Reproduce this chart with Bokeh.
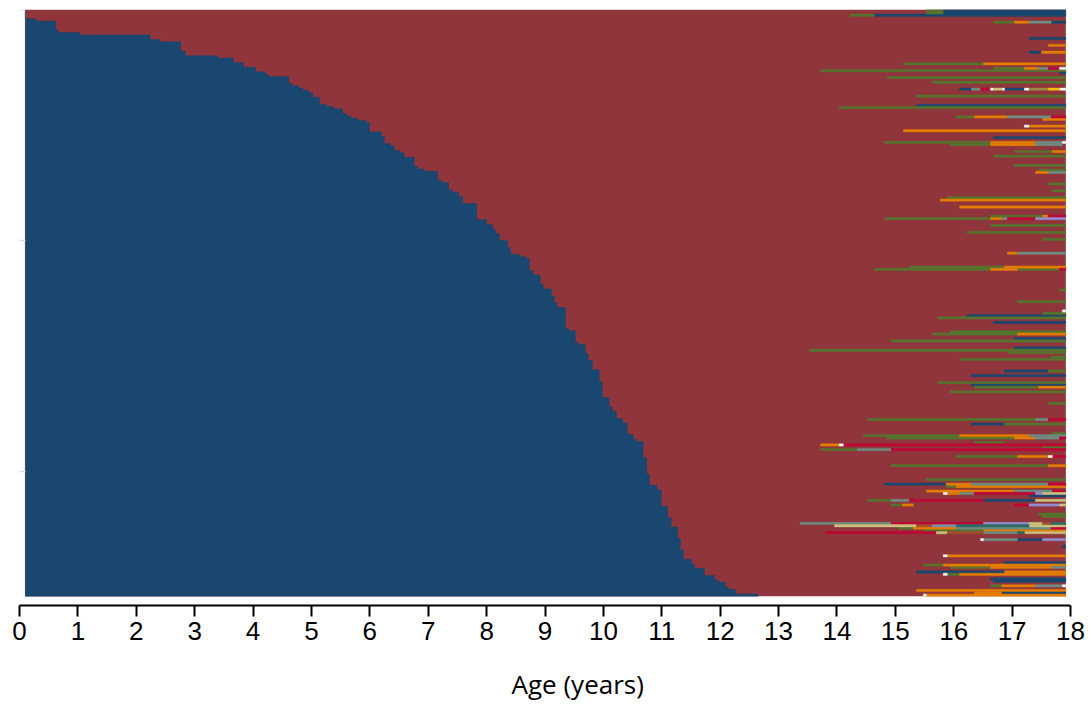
from bokeh.plotting import figure
from bokeh.models import Range1d, FixedTicker, ColumnDataSource
from bokeh.core.properties import value
from bokeh.embed import file_html
from bokeh.resources import INLINE

# ---------------- data ----------------
N_ROWS = 254          # number of sequences (rows, counted from the top)
SEQ_START = 0.10      # first observed age (years)
SEQ_END = 17.92       # last observed age (years)

# rows grouped by the age at which state 1 (navy) ends; each group starts at row index below
group_first_row = [0, 4, 5, 9, 10, 11, 13, 14, 18, 20, 21, 23, 25, 27, 28, 29, 32, 33, 34, 35,
                   36, 38, 41, 42, 43, 45, 46, 47, 48, 49, 53, 55, 58, 59, 61, 62, 64, 68, 69, 70,
                   74, 75, 78, 79, 81, 84, 91, 93, 95, 97, 100, 103, 106, 107, 108, 113, 115, 119, 121, 124,
                   127, 129, 138, 139, 144, 145, 149, 152, 156, 161, 168, 172, 174, 177, 179, 184, 186, 187, 194, 201,
                   206, 208, 215, 220, 224, 229, 234, 238, 240, 242, 245, 247, 248, 250, 251, 253]
blue_end_age = [0.10, 0.27, 0.62, 0.67, 1.04, 2.24, 2.41, 2.76, 2.84, 3.39, 3.66, 3.84, 4.04, 4.21, 4.26, 4.61, 4.67, 4.78, 4.85, 4.95,
                5.02, 5.14, 5.26, 5.38, 5.53, 5.60, 5.67, 5.79, 5.94, 5.99, 6.20, 6.25, 6.35, 6.42, 6.52, 6.59, 6.76, 6.82, 6.93, 7.16,
                7.24, 7.35, 7.41, 7.52, 7.59, 7.83, 8.00, 8.10, 8.15, 8.22, 8.36, 8.41, 8.56, 8.68, 8.73, 8.80, 8.92, 8.97, 9.11, 9.16,
                9.21, 9.35, 9.40, 9.52, 9.57, 9.69, 9.74, 9.81, 9.93, 9.98, 10.10, 10.15, 10.22, 10.33, 10.41, 10.51, 10.57, 10.68, 10.74, 10.79,
                10.92, 10.99, 11.10, 11.16, 11.27, 11.32, 11.37, 11.51, 11.56, 11.73, 11.90, 11.97, 12.09, 12.14, 12.26, 12.65]

# later episodes (row, start age, end age) for each further state
ep_navy = [(0, 15.82, 17.92), (1, 15.82, 17.92), (2, 14.64, 17.92), (5, 17.67, 17.92), (12, 17.29, 17.92),
           (18, 17.29, 17.50), (27, 17.81, 17.92), (34, 16.10, 16.30), (34, 16.87, 17.21), (41, 15.36, 17.92),
           (55, 16.68, 17.92), (132, 16.23, 17.92), (135, 16.68, 17.92), (142, 17.04, 17.92), (146, 17.04, 17.92),
           (156, 16.87, 17.62), (158, 16.30, 17.92), (162, 16.30, 17.92), (179, 16.30, 16.87), (205, 14.81, 15.87),
           (210, 17.29, 17.92), (212, 16.51, 17.40), (229, 17.09, 17.52), (232, 17.86, 17.92), (239, 16.87, 17.92),
           (243, 15.36, 16.87), (246, 16.63, 17.92), (247, 16.68, 17.92), (252, 16.82, 17.92)]
ep_green = [(0, 15.53, 15.82), (1, 15.53, 15.82), (2, 14.23, 14.64), (5, 16.68, 17.04), (23, 15.14, 16.51),
            (25, 16.68, 17.21), (26, 13.72, 17.92), (29, 14.86, 17.92), (31, 15.63, 17.92), (37, 15.36, 17.92),
            (42, 14.04, 17.92), (46, 16.04, 16.35), (57, 14.81, 16.63), (58, 15.94, 16.63), (61, 17.04, 17.69),
            (63, 16.68, 17.92), (67, 17.04, 17.92), (69, 17.45, 17.92), (75, 17.62, 17.92), (78, 17.69, 17.92),
            (81, 15.89, 17.92), (89, 16.63, 17.52), (90, 14.81, 16.63), (93, 16.63, 17.92), (96, 16.23, 17.92),
            (99, 17.52, 17.92), (111, 15.24, 16.87), (112, 14.64, 16.63), (112, 17.09, 17.81), (121, 17.81, 17.92),
            (126, 17.09, 17.92), (131, 17.52, 17.92), (133, 15.72, 17.92), (139, 15.94, 17.92), (140, 15.63, 17.09),
            (143, 14.93, 17.92), (147, 13.53, 17.92), (148, 16.92, 17.92), (150, 17.67, 17.92), (151, 16.10, 17.92),
            (156, 17.62, 17.92), (161, 15.72, 17.92), (163, 16.35, 17.45), (165, 15.94, 17.92), (170, 17.62, 17.92),
            (177, 14.52, 17.40), (179, 16.87, 17.92), (183, 17.69, 17.92), (184, 14.45, 16.10), (185, 14.86, 17.04),
            (187, 16.35, 16.87), (189, 17.52, 17.92), (190, 13.72, 14.35), (193, 16.04, 17.09), (197, 14.93, 17.62),
            (203, 15.53, 17.92), (206, 15.87, 16.04), (212, 14.52, 14.93), (214, 14.93, 15.12), (218, 17.45, 17.92),
            (219, 17.52, 17.92), (224, 15.05, 15.31), (225, 15.48, 16.51), (240, 15.48, 15.82), (241, 15.94, 16.63),
            (244, 15.89, 16.10), (249, 16.63, 16.82)]
ep_orange = [(5, 17.04, 17.29), (15, 17.62, 17.92), (18, 17.50, 17.92), (23, 16.51, 17.92), (25, 17.21, 17.45),
             (46, 16.35, 16.92), (47, 17.52, 17.92), (50, 17.29, 17.92), (52, 15.14, 17.92), (57, 16.63, 17.40),
             (58, 16.63, 17.40), (61, 17.69, 17.92), (70, 17.40, 17.62), (82, 15.77, 17.92), (85, 16.10, 17.92),
             (89, 17.52, 17.62), (90, 16.63, 16.83), (105, 16.92, 17.09), (111, 16.87, 17.92), (112, 16.63, 17.09),
             (140, 17.09, 17.92), (163, 17.45, 17.92), (184, 16.10, 17.29), (185, 17.04, 17.40), (188, 13.72, 14.04),
             (193, 17.09, 17.62), (197, 17.62, 17.92), (205, 15.87, 16.30), (206, 16.04, 17.92), (208, 15.53, 17.04),
             (209, 15.89, 16.10), (214, 15.12, 15.31), (224, 15.31, 16.04), (225, 16.51, 17.92), (236, 15.89, 17.92),
             (240, 15.82, 17.92), (241, 16.63, 17.69), (243, 16.87, 17.92), (244, 16.10, 17.92), (249, 16.82, 17.40),
             (251, 15.36, 17.92), (252, 16.35, 16.82), (253, 15.53, 17.92)]
ep_teal = [(5, 17.29, 17.67), (25, 17.45, 17.62), (34, 16.30, 16.46), (46, 16.92, 17.67), (57, 17.40, 17.86),
           (58, 17.40, 17.86), (70, 17.62, 17.92), (90, 16.83, 16.92), (105, 17.09, 17.92), (177, 17.40, 17.62),
           (184, 17.29, 17.92), (185, 17.40, 17.81), (190, 14.35, 14.93), (205, 16.30, 17.62), (208, 17.04, 17.69),
           (209, 16.10, 16.35), (212, 14.93, 15.24), (222, 13.37, 14.93), (224, 16.04, 17.67), (226, 16.51, 17.09),
           (229, 16.51, 17.09), (241, 17.69, 17.92), (249, 17.40, 17.86)]
ep_cranberry = [(25, 17.62, 17.81), (34, 16.46, 16.63), (46, 17.67, 17.92), (89, 17.62, 17.92), (90, 16.92, 17.40),
                (112, 17.81, 17.92), (177, 17.62, 17.92), (185, 17.81, 17.92), (188, 14.11, 17.92), (190, 14.93, 17.92),
                (193, 17.69, 17.92), (205, 17.62, 17.92), (208, 17.69, 17.92), (209, 16.35, 17.40), (212, 15.24, 16.51),
                (214, 17.04, 17.29), (222, 14.93, 16.51), (224, 17.67, 17.92), (226, 13.80, 15.70)]
ep_white = [(25, 17.81, 17.92), (34, 16.63, 16.68), (34, 16.83, 16.87), (34, 17.21, 17.29), (34, 17.81, 17.92),
            (50, 17.21, 17.29), (57, 17.86, 17.92), (130, 17.86, 17.92), (188, 14.04, 14.11), (193, 17.62, 17.69),
            (209, 15.82, 15.89), (229, 16.46, 16.51), (236, 15.82, 15.89), (244, 15.82, 15.89), (249, 17.86, 17.92),
            (253, 15.48, 15.53)]
ep_lavender = [(90, 17.40, 17.92), (209, 17.40, 17.52), (214, 17.29, 17.81), (222, 16.51, 17.29), (229, 17.52, 17.92)]
ep_khaki = [(34, 16.68, 16.83), (209, 17.52, 17.92), (212, 17.40, 17.92), (214, 17.81, 17.92), (222, 17.29, 17.52),
            (223, 13.96, 15.36), (223, 17.29, 17.92), (226, 15.70, 15.89), (226, 17.21, 17.92)]
ep_sienna = [(222, 17.52, 17.67), (223, 15.36, 15.63), (226, 15.89, 16.51)]
ep_emidblue = [(223, 15.63, 16.04)]
ep_emerald = [(222, 17.67, 17.92), (223, 16.04, 17.29), (226, 17.09, 17.21)]
ep_brown = [(34, 17.29, 17.62)]
ep_gold = [(34, 17.62, 17.81)]

x_ticks = list(range(0, 19))
y_ticks = [0, 100, 200]
x_title = "Age (years)"

# ---------------- styling ----------------
NAVY, MAROON = "#1a476f", "#90353b"
state_colors = [
    (ep_navy, NAVY), (ep_green, "#55752f"), (ep_orange, "#e37e00"), (ep_teal, "#6e8e84"),
    (ep_cranberry, "#c10534"), (ep_white, "#f7f7f7"), (ep_lavender, "#938dd2"), (ep_khaki, "#cac27e"),
    (ep_sienna, "#a0522d"), (ep_emidblue, "#7b92a8"), (ep_emerald, "#2d6d66"), (ep_brown, "#9c8847"),
    (ep_gold, "#f5c200"),
]

# frame covers the whole picture below a 9 px top margin; axes are drawn inside it
PX_PER_YEAR = 1051 / 18
X_PAD = 19 / PX_PER_YEAR       # margin (in years) left of age 0 and right of age 18
AXIS_AT = 258                  # row coordinate at which the age axis is drawn
TITLE_AT = 292.0               # row coordinate of the axis title's centre
Y_BOTTOM = 300.87              # row coordinate at the bottom edge of the picture

p = figure(width=1089, height=704, output_backend="svg", toolbar_location=None,
           x_range=Range1d(-X_PAD, 18 + X_PAD), y_range=Range1d(Y_BOTTOM, 0),
           min_border_left=0, min_border_right=0, min_border_top=9, min_border_bottom=0)
p.outline_line_color = None
p.grid.visible = False
p.background_fill_color = "white"
p.border_fill_color = "white"

# state 2 (maroon) everywhere after the navy spell: one block for all rows
p.quad(left=[SEQ_START], right=[SEQ_END], top=[0], bottom=[N_ROWS],
       fill_color=MAROON, line_color=None)

# state 1 (navy) from the start until blue_end_age for each group of rows: one stepped shape
next_rows = group_first_row[1:] + [N_ROWS]
bx, by = [SEQ_START], [0]
for r0, r1, e in zip(group_first_row, next_rows, blue_end_age):
    bx += [e, e]
    by += [r0, r1]
bx.append(SEQ_START)
by.append(N_ROWS)
p.patch(bx, by, fill_color=NAVY, line_color=NAVY, line_width=0.5)

# further states, on top
for eps, col in state_colors:
    src = ColumnDataSource(dict(
        left=[e[1] for e in eps], right=[e[2] for e in eps],
        top=[e[0] for e in eps], bottom=[e[0] + 1 for e in eps]))
    p.quad(source=src, left="left", right="right", top="top", bottom="bottom",
           fill_color=col, line_color=col, line_width=0.4)

# x axis, drawn a few rows under the sequences
xa = p.xaxis[0]
xa.fixed_location = AXIS_AT
xa.bounds = (0, 18)
xa.ticker = FixedTicker(ticks=x_ticks)
xa.axis_line_color = "black"
xa.axis_line_width = 2
xa.major_tick_line_color = "black"
xa.major_tick_line_width = 2
xa.major_tick_out = 11
xa.major_tick_in = 0
xa.minor_tick_line_color = None
xa.major_label_text_font = "Liberation Sans"
xa.major_label_text_font_size = "26px"
xa.major_label_text_color = "black"
xa.major_label_standoff = 6

# y axis at age 0: faint ticks only
ya = p.yaxis[0]
ya.fixed_location = 0
ya.bounds = (0, N_ROWS)
ya.ticker = FixedTicker(ticks=y_ticks)
ya.axis_line_color = None
ya.major_tick_line_color = "#d5e3e8"
ya.major_tick_line_width = 1.5
ya.major_tick_in = 6
ya.major_tick_out = 0
ya.minor_tick_line_color = None
ya.major_label_overrides = {t: "" for t in y_ticks}
ya.major_label_text_font_size = "1px"

# axis title
p.text(x=[9.56], y=[TITLE_AT], text=[x_title], text_align="center", text_baseline="middle",
       text_font=value("Open Sans"), text_font_size=value("26px"), text_color="black")

open("out.html", "w").write(file_html(p, INLINE))
